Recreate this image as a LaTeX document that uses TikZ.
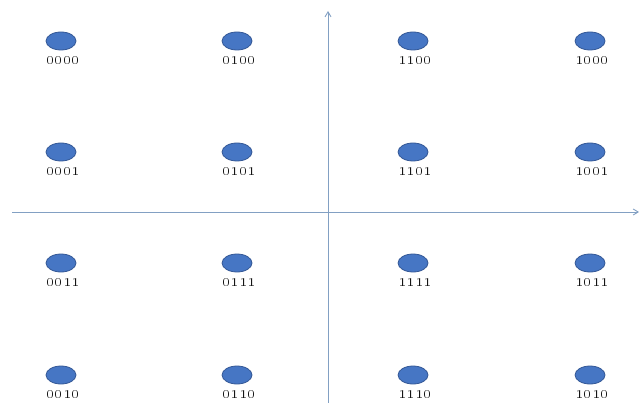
\documentclass[tikz,border=0pt]{standalone}
\usepackage{xcolor}
\usepackage{tikz}
\usetikzlibrary{positioning, arrows.meta, shapes.geometric}
\definecolor{dotblue}{RGB}{70,118,196}
\definecolor{dotedge}{RGB}{52,88,150}
\definecolor{axisblue}{RGB}{130,160,195}

\begin{document}
\begin{tikzpicture}[x=1pt, y=-1pt,
  every node/.style={inner sep=0pt},
  dot/.style={ellipse, fill=dotblue, draw=dotedge, line width=0.8pt,
              minimum width=30pt, minimum height=18pt},
  lab/.style={font=\fontsize{18.5}{18.5}\selectfont\bfseries\boldmath,
              color=black!92, xshift=2pt},
  axis/.style={-{Straight Barb[length=5pt, width=6pt]}, axisblue, line width=0.9pt}]
\useasboundingbox (0,0) rectangle (639,403);
% axes
\coordinate (xstart) at (12,212);
\coordinate (xend) at (639,212);
\coordinate (ystart) at (328,403);
\coordinate (yend) at (328,11);
\draw[axis] (xstart) -- (xend);
\draw[axis] (ystart) -- (yend);
% constellation points
\foreach \px/\py/\code in {61/41/0000, 237/41/0100, 413/41/1100, 590/41/1000,
                         61/152/0001, 237/152/0101, 413/152/1101, 590/152/1001,
                         61/263/0011, 237/263/0111, 413/263/1111, 590/263/1011,
                         61/375/0010, 237/375/0110, 413/375/1110, 590/375/1010}{
  \node[dot] (d\code) at (\px,\py) {};
  \node[lab, below=6pt of d\code] (l\code) {\oldstylenums{\code}};
}
\end{tikzpicture}
\end{document}
